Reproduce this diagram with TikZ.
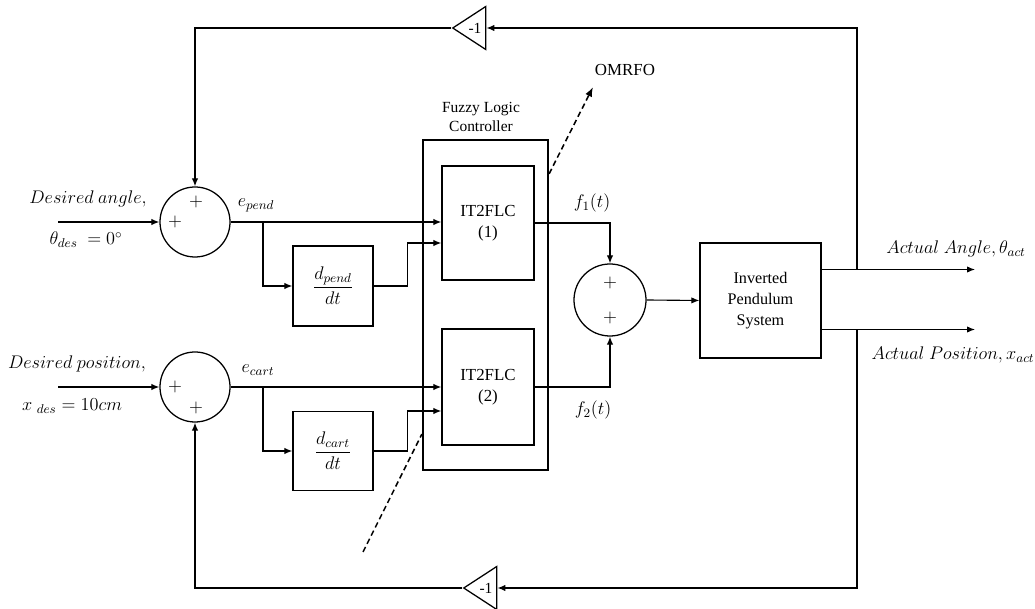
\documentclass[tikz,border=0pt]{standalone}
\usepackage{fix-cm}
\usepackage{amsmath}
\usepackage{fontspec}
\setmainfont{Liberation Serif}
\usetikzlibrary{positioning, arrows.meta, calc, shapes.geometric}

\begin{document}
\begin{tikzpicture}[
  x=0.025cm, y=-0.025cm,
  font=\rmfamily\fontsize{11}{13}\selectfont,
  block/.style={rectangle, draw=black, line width=0.9pt, inner sep=0pt},
  sumnode/.style={circle, draw=black, line width=0.9pt, minimum size=1.75cm,
                  inner sep=0pt},
  gain/.style={isosceles triangle, draw=black, line width=0.9pt,
               shape border rotate=180, isosceles triangle stretches,
               minimum width=1.075cm, minimum height=0.825cm, inner sep=0pt},
  plus/.style={font=\fontsize{13}{13}\selectfont, inner sep=0pt},
  mathlbl/.style={font=\fontsize{13}{15}\selectfont},
  sig/.style={-{Latex[length=2mm, width=1.6mm]}, line width=0.8pt},
  tunearrow/.style={line width=1.1pt, dash pattern=on 4pt off 2.5pt},
  every node/.style={align=center}
]
\useasboundingbox (0,0) rectangle (1035,609);
% Summing junctions
\node[sumnode] (sum1) at (195,222) {};
\node[plus] (p1a) at ($(sum1)+(-20,0)$) {$+$};
\node[plus] (p1b) at ($(sum1)+(1,-20)$) {$+$};
\node[sumnode] (sum3) at (195,387) {};
\node[plus] (p3a) at ($(sum3)+(-20,0)$) {$+$};
\node[plus] (p3b) at ($(sum3)+(1,21)$) {$+$};
\node[sumnode, minimum size=1.8cm] (sum2) at (610,300) {};
\node[plus] (p2a) at ($(sum2)+(0,-17)$) {$+$};
\node[plus] (p2b) at ($(sum2)+(0,18)$) {$+$};
% Reference inputs
\coordinate (angin) at (58,222);
\coordinate (posin) at (58,387);
\node[mathlbl] (lblang) at (88,199) {$Desired\ angle,$};
\node[mathlbl] (lblthd) at (86,240) {$\theta_{des}\ = 0^{\circ}$};
\node[mathlbl] (lblpos) at (77,364) {$Desired\ position,$};
\node[mathlbl] (lblxd) at (72,406) {$x\ {}_{des} = 10cm$};
\draw[sig] (angin) -- (sum1.west);
\draw[sig] (posin) -- (sum3.west);
\node[mathlbl] (lblep) at (256,205) {$e_{pend}$};
\node[mathlbl] (lblec) at (258,370) {$e_{cart}$};
% Derivative blocks
\node[block, mathlbl, minimum width=2cm, minimum height=2cm] (dpend)
  at (333,286) {$\dfrac{d_{pend}}{dt}$};
\node[block, mathlbl, minimum width=2cm, minimum height=1.975cm] (dcart)
  at (333,451) {$\dfrac{d_{cart}}{dt}$};
% Fuzzy logic controller
\node[block, line width=1.5pt, minimum width=3.125cm, minimum height=8.25cm]
  (flc) at (485.5,305) {};
\node (flclbl) at (481,117) {Fuzzy Logic\\Controller};
\node[block, minimum width=2.3cm, minimum height=2.85cm,
      font=\fontsize{12}{15}\selectfont] (flc1) at (488,223) {IT2FLC\\(1)};
\node[block, minimum width=2.3cm, minimum height=2.9cm,
      font=\fontsize{12}{15}\selectfont] (flc2) at (488,387) {IT2FLC\\(2)};
% Plant
\node[block, minimum width=3.025cm, minimum height=2.875cm,
      font=\fontsize{11.5}{15}\selectfont] (ips) at (760.5,300.5)
  {Inverted\\Pendulum\\System};
% Gains
\node[gain] (gtop) at (475,28) {-1};
\node[gain] (gbot) at (486,588) {-1};
% Error paths
\coordinate (br1) at (263,222);
\coordinate (br3) at (263,387);
\draw[sig] (sum1.east) -- (sum1.east -| flc1.west);
\draw[sig] (br1) |- (dpend.west);
\draw[sig] (dpend.east) -- ++(34,0) |- ($(flc1.west)+(0,20)$);
\draw[sig] (sum3.east) -- (sum3.east -| flc2.west);
\draw[sig] (br3) |- (dcart.west);
\draw[sig] (dcart.east) -- ++(34,0) |- ($(flc2.west)+(0,24)$);
% Controller outputs
\draw[sig] (flc1.east) -| (sum2.north);
\draw[sig] (flc2.east) -| (sum2.south);
\node[mathlbl] (lblf1) at (592,203) {$f_1(t)$};
\node[mathlbl] (lblf2) at (593,410) {$f_2(t)$};
\draw[sig] (sum2.east) -- (ips.west);
% Outputs and feedback
\coordinate (ipsa) at ($(ips.east)+(0,-31)$);
\coordinate (ipsb) at ($(ips.east)+(0,29)$);
\coordinate (angout) at (975,269.5);
\coordinate (posout) at (975,329.5);
\coordinate (fba) at (857,269.5);
\coordinate (fbb) at (857,329.5);
\draw[sig] (ipsa) -- (angout);
\draw[sig] (ipsb) -- (posout);
\node[mathlbl] (lblaa) at (956,249) {$Actual\ Angle,\theta_{act}$};
\node[mathlbl] (lblap) at (953,355) {$Actual\ Position, x_{act}$};
\draw[sig] (fba) |- (gtop.east);
\draw[sig] (gtop.west) -| (sum1.north);
\draw[sig] (fbb) |- (gbot.east);
\draw[sig] (gbot.west) -| (sum3.south);
% Optimiser
\node[font=\fontsize{12}{14}\selectfont] (omrfo) at (625,70) {OMRFO};
\coordinate (tunebot) at (363,552);
\coordinate (tunetip) at (593,87);
\draw[tunearrow] (tunebot) -- ($(flc.south west)+(0,-37)$);
\draw[tunearrow, -{Latex[length=2.4mm, width=1.8mm]}]
  ($(flc.north east)+(0,35)$) -- (tunetip);
\end{tikzpicture}
\end{document}
